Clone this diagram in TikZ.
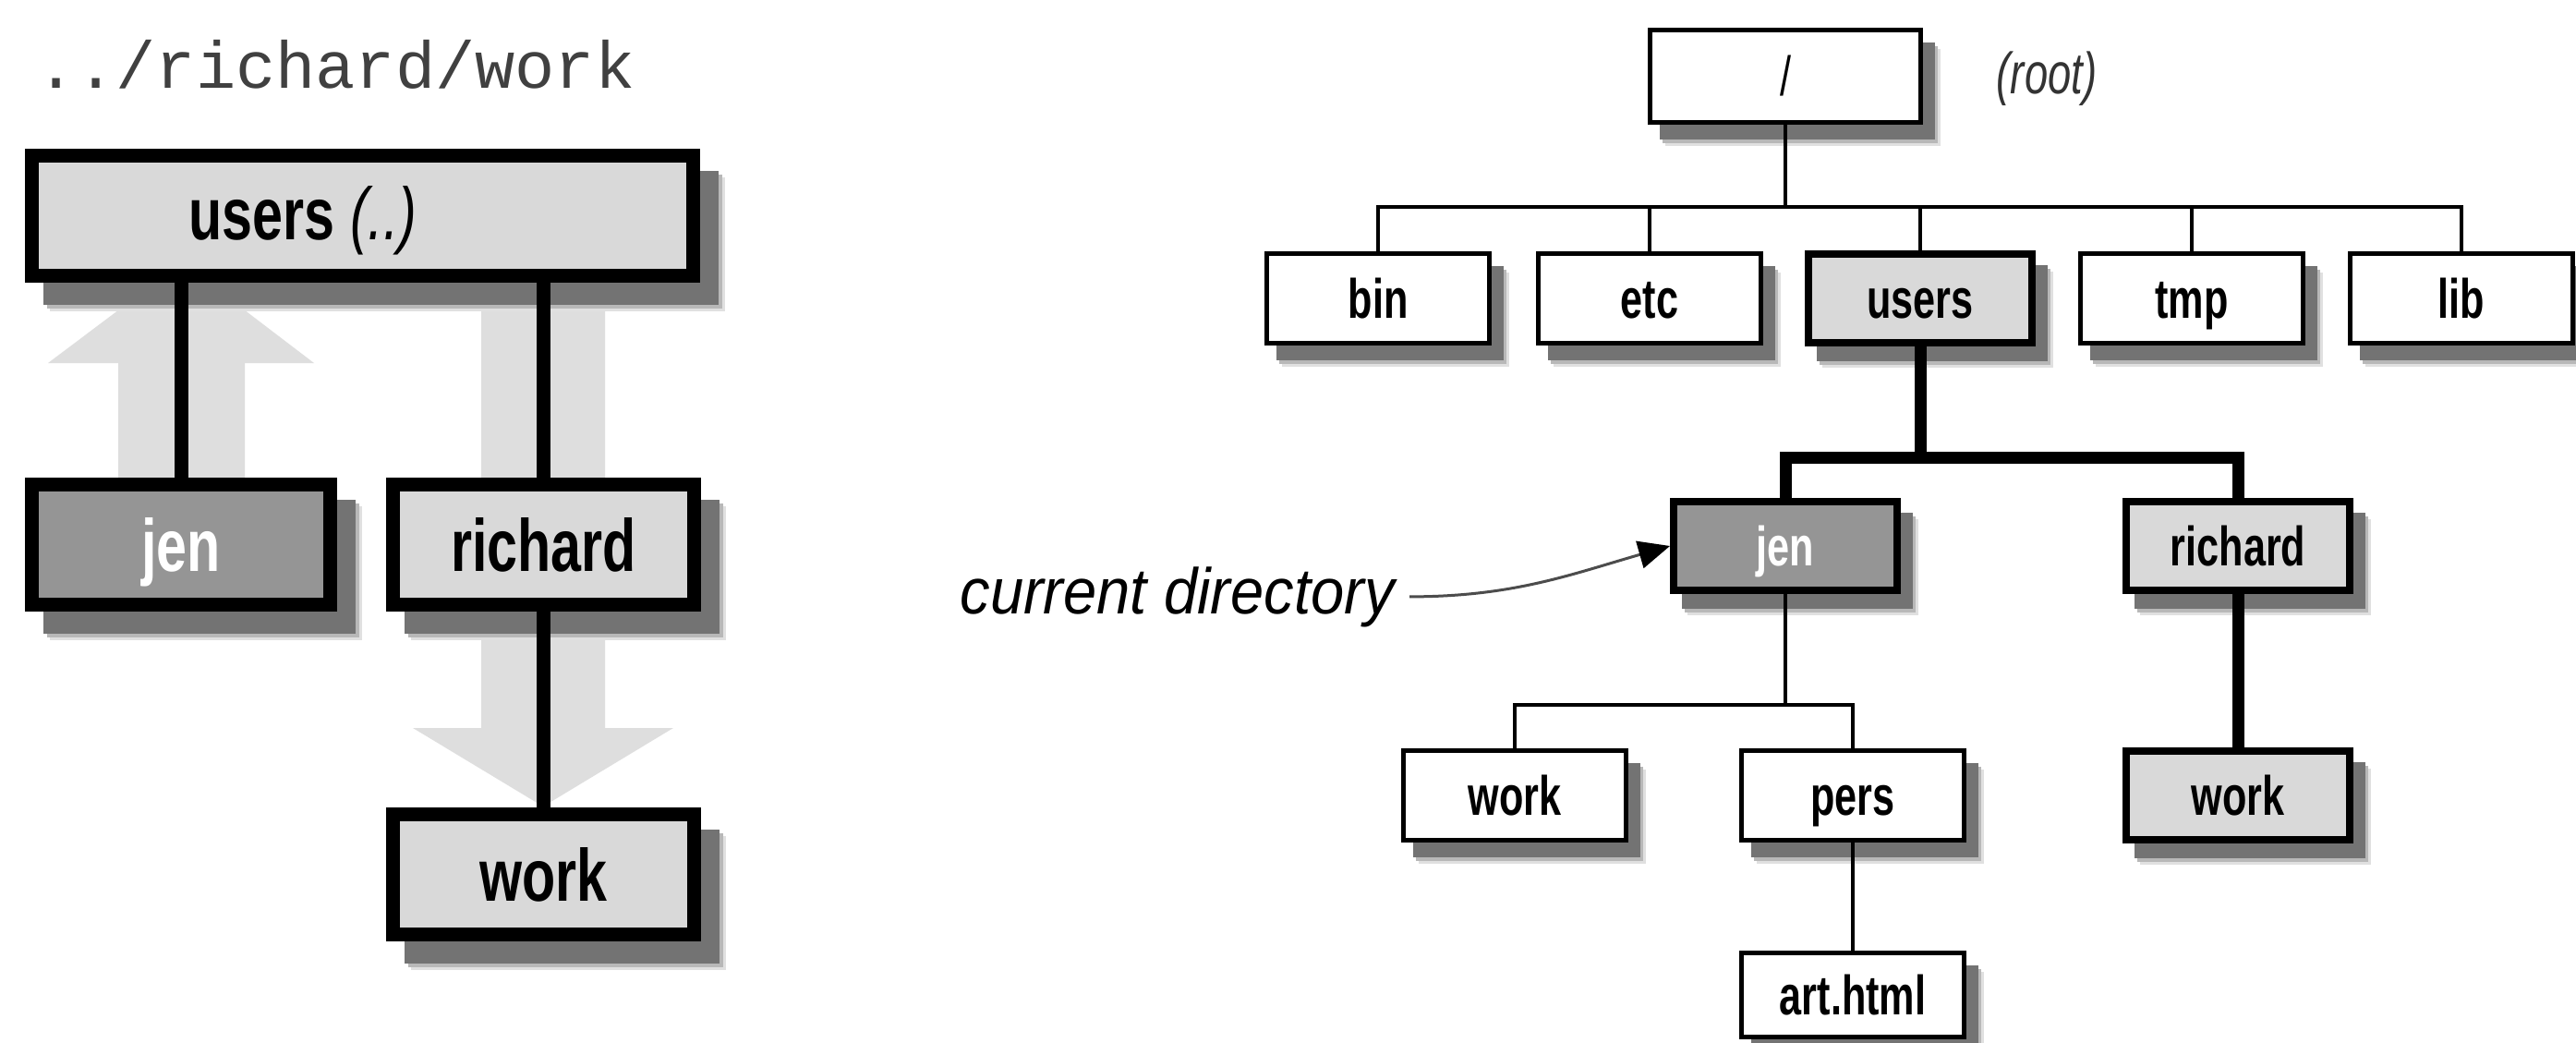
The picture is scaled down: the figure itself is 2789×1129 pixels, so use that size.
\documentclass[tikz,border=0pt]{standalone}
\usepackage{fontspec}
\setmainfont{Liberation Sans}
\setmonofont{Liberation Mono}
\newfontfamily\lfont[FakeStretch=0.74]{Liberation Sans}
\newfontfamily\rfont[FakeStretch=0.72]{Liberation Sans}
\newfontfamily\cfont[FakeStretch=0.93]{Liberation Sans}
\usetikzlibrary{shadows,arrows.meta,calc}
\pgfdeclarelayer{bg}
\pgfsetlayers{bg,main}
\definecolor{lightfill}{HTML}{D9D9D9}
\definecolor{darkfill}{HTML}{959595}
\definecolor{arrowgrey}{HTML}{DEDEDE}
\tikzset{
  lshadow/.style={
    general shadow={shadow xshift=27pt,shadow yshift=-31pt,fill=black!12,draw=black!12},
    general shadow={shadow xshift=24pt,shadow yshift=-28pt,fill=black!28,draw=black!28},
    general shadow={shadow xshift=20pt,shadow yshift=-24pt,fill=black!55,draw=black!55}},
  rshadow/.style={
    general shadow={shadow xshift=19pt,shadow yshift=-23pt,fill=black!12,draw=black!12},
    general shadow={shadow xshift=16pt,shadow yshift=-20pt,fill=black!28,draw=black!28},
    general shadow={shadow xshift=13pt,shadow yshift=-16pt,fill=black!55,draw=black!55}},
  lbox/.style={lshadow, draw=black, line width=15pt, fill=lightfill, minimum height=130pt, inner sep=0pt,
     font=\lfont\bfseries\fontsize{80pt}{90pt}\selectfont, text height=57pt, text depth=0pt},
  rbox/.style={rshadow, draw=black, line width=5pt, fill=white, minimum width=241pt, minimum height=97pt, inner sep=0pt,
     font=\rfont\bfseries\fontsize{60pt}{70pt}\selectfont, text height=43pt, text depth=0pt},
  rhl/.style={rbox, line width=8pt, minimum width=242pt, minimum height=96pt, fill=lightfill},
  thinline/.style={line width=4.5pt},
  thickline/.style={line width=13pt},
  lline/.style={line width=15pt},
}
\begin{document}
\begin{tikzpicture}[x=1pt,y=-1pt]
\useasboundingbox (0,0) rectangle (2789,1129);
% ---------- left part ----------
\node[anchor=base west, inner sep=0pt, font=\ttfamily\fontsize{72pt}{80pt}\selectfont, text=black!75] (pathlbl) at (39,96) {../richard/work};
\node[lbox, minimum width=716pt] (lusers) at (392.5,233.5) {};
\node[anchor=base, inner sep=0pt, font=\lfont\fontsize{80pt}{90pt}\selectfont] (luserslbl) at (328,259) {\textbf{users} \textit{(..)}};
\node[lbox, fill=darkfill, text=white, minimum width=323pt] (ljen) at (196,589.5) {jen};
\node[lbox, minimum width=326pt] (lrichard) at (588.5,589.5) {richard};
\node[lbox, minimum width=326pt] (lwork) at (588.5,946.5) {work};
\draw[lline] (ljen.north) -- (ljen.north |- lusers.south);
\draw[lline] (lrichard.north) -- (lrichard.north |- lusers.south);
\draw[lline] (lrichard.south) -- (lwork.north);
% ---------- right tree ----------
\node[rbox, minimum width=293pt, minimum height=100pt, font=\rfont\fontsize{60pt}{70pt}\selectfont] (root) at (1933,82.5) {/};
\node[font=\rfont\itshape\fontsize{63pt}{70pt}\selectfont, text=black!80, inner sep=0pt] (rootlbl) at (2216,85) {(root)};
\node[rbox] (bin) at (1492,323) {bin};
\node[rbox] (etc) at (1786,323) {etc};
\node[rhl] (users) at (2079,323) {users};
\node[rbox] (tmp) at (2373,323) {tmp};
\node[rbox] (lib) at (2665,323) {lib};
\node[rhl, fill=darkfill, text=white] (jen) at (1933,591) {jen};
\node[rhl] (richard) at (2423,591) {richard};
\node[rbox] (work) at (1640,861) {work};
\node[rbox] (pers) at (2006,861) {pers};
\node[rhl] (rwork) at (2423,861) {work};
\node[rbox, minimum height=91pt] (art) at (2006,1077) {art.html};
\coordinate (b1) at (1933,224);
\draw[thinline] (root.south) -- (b1);
\draw[thinline] (bin.north) |- (b1) -| (lib.north);
\foreach \n in {etc,users,tmp} \draw[thinline] (\n.north) -- (\n.north |- b1);
\coordinate (b2) at (2079,495);
\draw[thickline] (users.south) -- (b2);
\draw[thickline] (jen.north) |- (b2) -| (richard.north);
\draw[thickline] (richard.south) -- (rwork.north);
\coordinate (b3) at (1933,763);
\draw[thinline] (jen.south) -- (b3);
\draw[thinline] (work.north) |- (b3) -| (pers.north);
\draw[thinline] (pers.south) -- (art.north);
\node[font=\cfont\itshape\fontsize{70pt}{78pt}\selectfont, anchor=base east, inner sep=0pt] (cd) at (1510,664) {current directory};
\draw[line width=3pt, draw=black!70, -{Triangle[length=34pt,width=30pt,color=black]}] ([xshift=16pt]cd.east) to[out=0,in=196] (jen.west);
% ---------- background arrows ----------
\begin{pgfonlayer}{bg}
\fill[white] (0,0) rectangle (2789,1129);
\fill[arrowgrey] (128,517) -- (128,393) -- (52,393) -- (197,284) -- (340,393) -- (265,393) -- (265,517) -- cycle;
\fill[arrowgrey] (521,306) -- (521,788) -- (447,788) -- (588,873) -- (729,788) -- (655,788) -- (655,306) -- cycle;
\end{pgfonlayer}
\end{tikzpicture}
\end{document}
